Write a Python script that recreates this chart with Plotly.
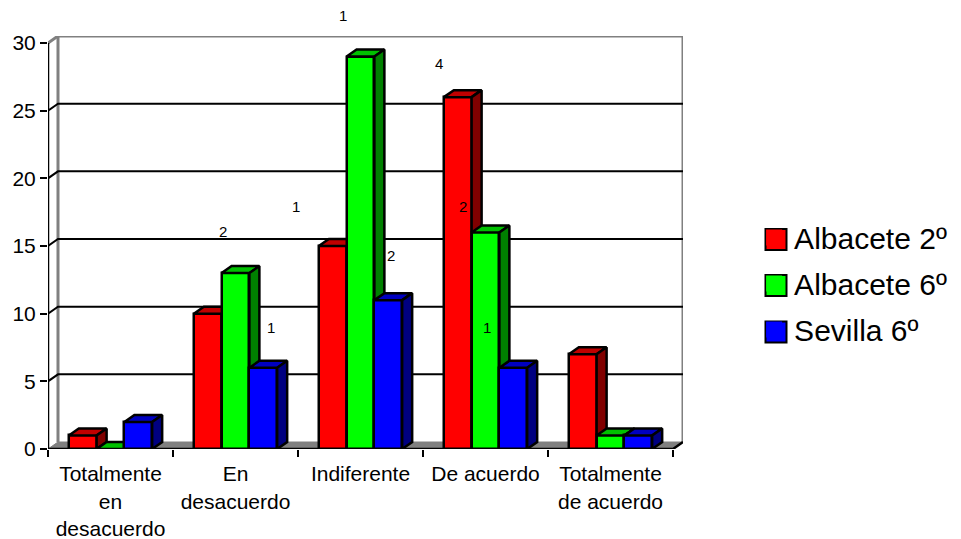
import plotly.graph_objects as go

categories = ["Totalmente<br>en<br>desacuerdo", "En<br>desacuerdo", "Indiferente", "De acuerdo", "Totalmente<br>de acuerdo"]
series_names = ["Albacete 2º", "Albacete 6º", "Sevilla 6º"]
albacete_2 = [1, 10, 15, 26, 7]
albacete_6 = [0, 13, 29, 16, 1]
sevilla_6 = [2, 6, 11, 6, 1]
y_ticks = [0, 5, 10, 15, 20, 25, 30]

stray_text = ["1", "4", "2", "1", "2", "2", "1", "1"]
stray_x = [1.86, 2.63, 0.90, 1.48, 2.82, 2.24, 1.28, 3.01]
stray_y = [32.0, 28.45, 16.1, 17.9, 17.9, 14.3, 9.0, 9.0]

series_values = [albacete_2, albacete_6, sevilla_6]
front_colors = ["#FF0000", "#00FF00", "#0000FF"]
top_colors = ["#C00000", "#00C000", "#0000C0"]
side_colors = ["#800000", "#008000", "#000080"]

FONT = "Liberation Sans"
DX = 0.08      # depth offset in category units
DY = 0.517     # depth offset in value units
BAR_W = 2 / 9
GROUP_START = -1 / 3
X0, X1 = -0.5, 4.5
YMAX = y_ticks[-1]
idx = list(range(len(categories)))
OUTLINE = 2.5
WALL = 3

fig = go.Figure()


def line(xs, ys, color, width=2):
    fig.add_trace(go.Scatter(x=xs, y=ys, mode="lines", showlegend=False,
                             hoverinfo="skip", cliponaxis=False,
                             line=dict(color=color, width=width, shape="linear")))


# Floor and walls on the base axes
fig.add_trace(go.Scatter(x=[X0, X1, X1 + DX, X0 + DX, X0], y=[0, 0, DY, DY, 0], mode="lines", fill="toself",
                         fillcolor="#808080", line=dict(color="#808080", width=1), showlegend=False,
                         hoverinfo="skip", cliponaxis=False))
line([X0 + DX, X0 + DX], [DY, YMAX + DY], "#808080", WALL)
line([X1 + DX, X1 + DX], [DY, YMAX + DY], "#808080", WALL)
line([X0, X0 + DX, X1 + DX], [YMAX, YMAX + DY, YMAX + DY], "#808080", WALL)
for v in y_ticks[1:-1]:
    line([X0, X0 + DX, X1 + DX], [v, v + DY, v + DY], "#000000", 2)
line([X0, X0], [0, YMAX], "#000000", OUTLINE)
line([X0, X1, X1 + DX], [0, 0, DY], "#000000", OUTLINE)

# Each series on its own overlay so that later series hide earlier ones
for s, vals in enumerate(series_values):
    xa, ya = f"x{s + 2}", f"y{s + 2}"
    left = [i + GROUP_START + s * BAR_W for i in idx]
    fig.add_trace(go.Bar(x=idx, y=vals, width=BAR_W, offset=GROUP_START + s * BAR_W, xaxis=xa, yaxis=ya,
                         name=series_names[s], showlegend=False, hoverinfo="skip", cliponaxis=False,
                         marker=dict(color=front_colors[s], line=dict(color="#000000", width=OUTLINE))))
    tx, ty, sx, sy = [], [], [], []
    for l, v in zip(left, vals):
        r = l + BAR_W
        tx += [l, r, r + DX, l + DX, l, None]
        ty += [v, v, v + DY, v + DY, v, None]
        sx += [r, r + DX, r + DX, r, r, None]
        sy += [0, DY, v + DY, v, 0, None]
    for px, py, col in ((tx, ty, top_colors[s]), (sx, sy, side_colors[s])):
        fig.add_trace(go.Scatter(x=px, y=py, mode="lines", fill="toself", fillcolor=col, xaxis=xa, yaxis=ya,
                                 line=dict(color="#000000", width=OUTLINE), showlegend=False, hoverinfo="skip",
                                 cliponaxis=False))
    # legend key
    fig.add_trace(go.Scatter(x=[None], y=[None], mode="markers", name=series_names[s], xaxis=xa, yaxis=ya,
                             legendgroup=series_names[s], hoverinfo="skip",
                             marker=dict(symbol="square", size=16, color=front_colors[s], line=dict(width=0))))

x_range = [X0, X1 + DX]
y_range = [0, YMAX + DY]

# Larger legend keys than the legend itself can draw (page pixels -> paper fractions)
PLOT_L, PLOT_W, PLOT_B, PLOT_H = 48, 635, 449, 413
key_shapes = []
for s, cy in enumerate([239.5, 285.5, 332]):
    key_shapes.append(dict(type="rect", xref="paper", yref="paper",
                           x0=(765.5 - PLOT_L) / PLOT_W, x1=(786.5 - PLOT_L) / PLOT_W,
                           y0=(PLOT_B - cy - 10.5) / PLOT_H, y1=(PLOT_B - cy + 10.5) / PLOT_H,
                           fillcolor=front_colors[s], line=dict(color="#000000", width=2)))

layout = dict(
    template=None,
    width=953, height=531, autosize=False,
    paper_bgcolor="#FFFFFF", plot_bgcolor="#FFFFFF",
    margin=dict(l=40, r=278, t=28, b=90, autoexpand=False),
    font=dict(family=FONT, color="#000000", size=21),
    bargap=0,
    showlegend=True,
    shapes=key_shapes,
    # Stray labels of the source chart: y as a fraction of the value range so they may leave the plot area
    annotations=[dict(x=x, y=y / y_range[1], xref="x", yref="paper", text=t, showarrow=False,
                      xanchor="center", yanchor="middle", font=dict(family=FONT, size=15, color="#000000"))
                 for x, y, t in zip(stray_x, stray_y, stray_text)],
    legend=dict(x=1.112, y=0.575, xanchor="left", yanchor="top", font=dict(family=FONT, size=30, color="#000000"),
                tracegroupgap=4, bgcolor="rgba(0,0,0,0)", borderwidth=0, traceorder="grouped"),
    xaxis=dict(range=x_range, type="linear", tickmode="array", tickvals=[X0 + i for i in range(6)],
               ticks="outside", ticklen=7, tickwidth=2, tickcolor="#000000", showticklabels=False,
               showgrid=False, zeroline=False, showline=False, fixedrange=True, automargin=False),
    yaxis=dict(range=y_range, type="linear", tickmode="array", tickvals=y_ticks, ticks="outside", ticklen=7,
               tickwidth=2, tickcolor="#000000", showgrid=False, zeroline=False, showline=False, fixedrange=True,
               automargin=False, tickfont=dict(family=FONT, size=21, color="#000000")),
)
for s in range(3):
    layout[f"xaxis{s + 2}"] = dict(range=x_range, type="linear", overlaying="x", anchor=f"y{s + 2}",
                                   showgrid=False, zeroline=False, showline=False, showticklabels=False,
                                   ticks="", fixedrange=True, automargin=False)
    layout[f"yaxis{s + 2}"] = dict(range=y_range, type="linear", overlaying="y", anchor=f"x{s + 2}",
                                   showgrid=False, zeroline=False, showline=False, showticklabels=False,
                                   ticks="", fixedrange=True, automargin=False)
# first series axis carries the category labels, centred under each group
layout["xaxis2"].update(tickmode="array", tickvals=idx, ticktext=categories, showticklabels=True,
                        ticks="outside", ticklen=6, tickcolor="rgba(0,0,0,0)", tickwidth=2,
                        tickfont=dict(family=FONT, size=21, color="#000000"))
fig.update_layout(**layout)
fig.write_html("out.html", config=dict(displayModeBar=False))
